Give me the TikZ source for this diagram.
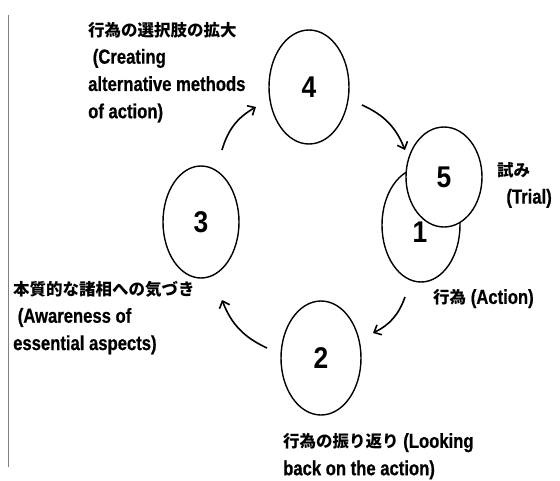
\documentclass[tikz,border=0pt]{standalone}
\usepackage{fontspec}
\setmainfont{Liberation Sans}
\newfontfamily\jp{Noto Sans CJK JP}
\newfontfamily\lat[FakeStretch=0.82,FakeBold=0.6]{Liberation Sans Bold}
\newfontfamily\num[FakeStretch=0.88]{Liberation Sans Bold}
\usetikzlibrary{shapes.geometric,arrows.meta,calc}
\tikzset{
  stage/.style={draw,ellipse,line width=1.4pt,inner sep=0pt,fill=white,
    font=\num\fontsize{30}{30}\selectfont},
  numlbl/.style={inner sep=0pt,font=\num\fontsize{30}{30}\selectfont},
  txt/.style={anchor=north west,inner sep=0pt,align=left,
    font=\lat\fontsize{20.3}{27.3}\selectfont},
  cyc/.style={line width=1.6pt,-{Straight Barb[length=6pt,width=11pt]},bend left=22}
}
\newcommand{\jpx}[1]{{\jp\bfseries\fontsize{16.5}{27.3}\selectfont #1}}
\begin{document}
\begin{tikzpicture}[x=1pt,y=-1pt]
\useasboundingbox (0,0) rectangle (560,480);
% left rule
\draw[gray,line width=1pt] (8,15) -- (8,467);
% stages
\node[stage,minimum width=80pt,minimum height=114pt] (n4) at (309,87) {4};
\node[stage,minimum width=76pt,minimum height=112pt] (n3) at (201,222) {3};
\node[stage,minimum width=80pt,minimum height=114pt] (n2) at (321,358) {2};
\node[stage,minimum width=78pt,minimum height=114pt] (n1) at (421,225) {};
\node[stage,minimum width=76pt,minimum height=100pt] (n5) at (444,177) {5};
\node[numlbl] (n1l) at (420,232) {1};
% labels
\node[txt] (t4) at (88,22) {\jpx{行為の選択肢の拡大}\\\hphantom{i}(Creating\\alternative methods\\of action)};
\node[txt] (t5) at (497,162) {\jpx{試み}\\\hphantom{ii}(Trial)};
\node[txt] (t1) at (433,289) {\jpx{行為} (Action)};
\node[txt] (t3) at (13,281) {\jpx{本質的な諸相への気づき}\\\hphantom{i}(Awareness of\\essential aspects)};
\node[txt] (t2) at (283,433) {\jpx{行為の振り返り} (Looking\\back on the action)};
% connector ends
\coordinate (s34) at ($(n3)+(21,-72)$);
\coordinate (e34) at ($(n4)+(-53,20)$);
\coordinate (s45) at ($(n4)+(53,18)$);
\coordinate (e45) at ($(n5)+(-39,-27)$);
\coordinate (s12) at ($(n1)+(-16,72)$);
\coordinate (e12) at ($(n2)+(52,-25)$);
\coordinate (s23) at ($(n2)+(-54,-10)$);
\coordinate (e23) at ($(n3)+(21,78)$);
\draw[cyc] (s34) to (e34);
\draw[cyc] (s45) to (e45);
\draw[cyc] (s12) to (e12);
\draw[cyc] (s23) to (e23);
\end{tikzpicture}
\end{document}
